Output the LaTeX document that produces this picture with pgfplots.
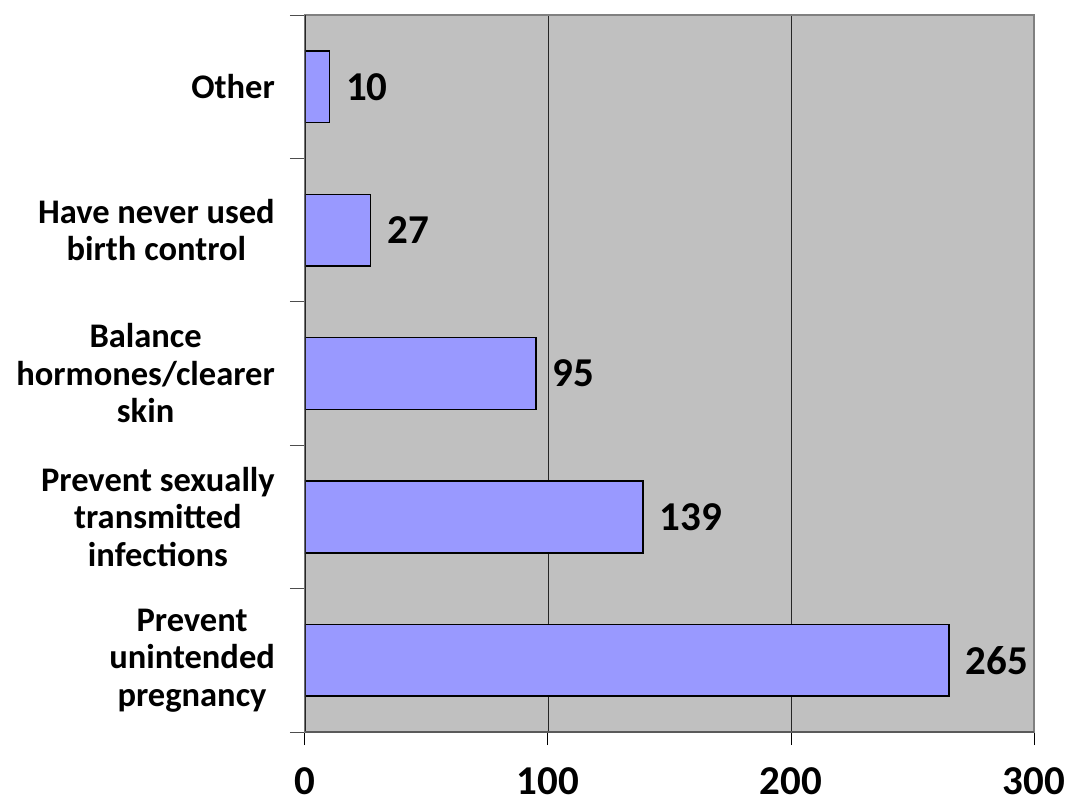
\documentclass[border=0pt]{standalone}
\usepackage{fontspec}
\setmainfont{Carlito}
\usepackage{pgfplots}
\pgfplotsset{compat=1.18}
\definecolor{barfill}{HTML}{9999FF}
\definecolor{plotbg}{HTML}{C0C0C0}
\definecolor{framegray}{HTML}{808080}

\begin{document}
\begin{tikzpicture}
\useasboundingbox (-305pt,-72pt) rectangle (779pt,732pt);
\begin{axis}[
  at={(0pt,0pt)}, anchor=south west,
  scale only axis, width=729pt, height=717pt,
  xbar, bar width=0.5,
  xmin=0, xmax=300, ymin=-0.5, ymax=4.5,
  /pgf/number format/assume math mode=true,
  axis background/.style={fill=plotbg},
  axis line style={draw=framegray, line width=1.2pt},
  xtick={0,100,200,300},
  ytick={0,1,2,3,4},
  yticklabels={{Prevent\\unintended\\pregnancy},
               {Prevent sexually\\transmitted\\infections},
               {Balance\\hormones/clearer\\skin},
               {Have never used\\birth control},
               {Other}},
  minor ytick={-0.5,0.5,1.5,2.5,3.5,4.5},
  tick align=outside, tick pos=left,
  major tick length=13pt, minor tick length=15pt,
  major y tick style={draw=none},
  minor y tick style={draw=framegray!60!black, line width=1pt},
  major x tick style={draw=black, line width=1pt},
  xmajorgrids, major x grid style={draw=black!85, line width=0.9pt},
  yticklabel style={font=\fontsize{34.5pt}{37.5pt}\selectfont\bfseries,
    align=center, inner sep=0pt, anchor=east, xshift=-17pt},
  xticklabel style={font=\fontsize{41pt}{41pt}\selectfont\bfseries,
    inner sep=0pt, anchor=north, yshift=-22pt},
  nodes near coords,
  nodes near coords style={font=\fontsize{41pt}{41pt}\selectfont\bfseries,
    anchor=west, inner sep=0pt, xshift=16pt},
]
\addplot[draw=black, fill=barfill, line width=1.5pt] coordinates {
  (265,0) (139,1) (95,2) (27,3) (10,4)
};
\draw[black!85, line width=1.5pt] (axis cs:0,-0.5) -- (axis cs:0,4.5);
\draw[framegray!70!black, line width=1.5pt] (axis cs:0,-0.5) -- (axis cs:300,-0.5);
\end{axis}
\end{tikzpicture}
\end{document}
